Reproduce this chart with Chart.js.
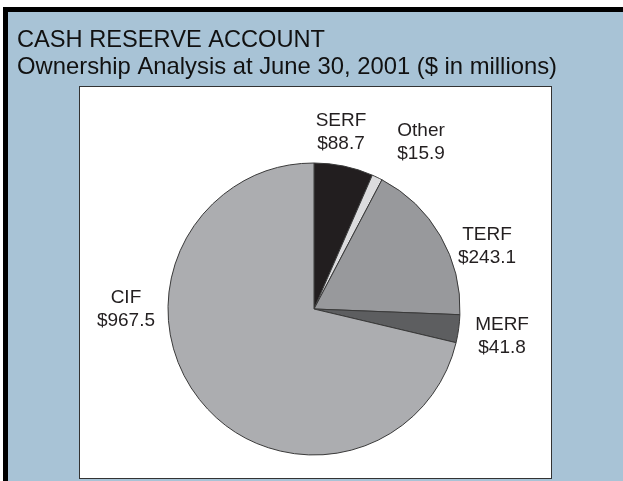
<!DOCTYPE html>
<html>
<head>
<meta charset="utf-8">
<script src="https://cdn.jsdelivr.net/npm/chart.js@4.4.1/dist/chart.umd.min.js"></script>
<style>
  html, body { margin: 0; padding: 0; background: #ffffff; }
  #wrap { width: 623px; height: 481px; }
</style>
</head>
<body>
<div id="wrap"><canvas id="chart" width="623" height="481"></canvas></div>
<script>
// chart data
const funds = ["SERF", "Other", "TERF", "MERF", "CIF"];
const amounts = [88.7, 15.9, 243.1, 41.8, 967.5];
const titleLines = ["CASH RESERVE ACCOUNT", "Ownership Analysis at June 30, 2001 ($ in millions)"];

// look
const sliceColors = ["#221e1f", "#dcdcde", "#98999c", "#5d5e60", "#acadb0"];
// label block centre, relative to pie centre, in units of the radius
const labelSpots = [[0.185, -1.226], [0.733, -1.151], [1.185, -0.445], [1.288, 0.178], [-1.288, -0.007]];

const frame = {
  id: "frame",
  beforeDraw(chart) {
    const ctx = chart.ctx;
    ctx.save();
    ctx.fillStyle = "#ffffff";
    ctx.fillRect(0, 0, 623, 481);
    ctx.fillStyle = "#000000";
    ctx.fillRect(3, 7, 620, 474);
    ctx.fillStyle = "#a8c3d6";
    ctx.fillRect(8, 12, 615, 469);
    // white panel behind the pie
    ctx.fillStyle = "#ffffff";
    ctx.fillRect(79, 86, 473, 393);
    ctx.strokeStyle = "#333333";
    ctx.lineWidth = 1;
    ctx.strokeRect(79.5, 86.5, 472, 392);

    // title, squeezed to the width seen in the picture
    ctx.fillStyle = "#111111";
    ctx.font = "24px 'Liberation Sans', Arial, sans-serif";
    ctx.textBaseline = "alphabetic";
    const spots = [[17, 47, 308], [17, 74, 540]];
    titleLines.forEach((t, i) => {
      const [x, y, w] = spots[i];
      const m = ctx.measureText(t).width;
      ctx.save();
      ctx.translate(x, y);
      ctx.scale(w / m, 1);
      ctx.fillText(t, 0, 0);
      ctx.restore();
    });
    ctx.restore();
  },
};

const sliceLabels = {
  id: "sliceLabels",
  afterDatasetsDraw(chart) {
    const ctx = chart.ctx;
    const arcs = chart.getDatasetMeta(0).data;
    ctx.save();
    ctx.fillStyle = "#231f20";
    ctx.font = "19px 'Liberation Sans', Arial, sans-serif";
    ctx.textAlign = "center";
    ctx.textBaseline = "alphabetic";
    arcs.forEach((arc, i) => {
      const r = arc.outerRadius;
      const cx = arc.x + labelSpots[i][0] * r;
      const cy = arc.y + labelSpots[i][1] * r;
      ctx.fillText(funds[i], cx, cy - 11.5 + 7);
      ctx.fillText("$" + amounts[i].toFixed(1), cx, cy + 11.5 + 7);
    });
    ctx.restore();
  },
};

new Chart(document.getElementById("chart"), {
  type: "pie",
  data: {
    labels: funds,
    datasets: [{
      data: amounts,
      backgroundColor: sliceColors,
      borderColor: "#3a3a3a",
      borderWidth: 1,
    }],
  },
  options: {
    responsive: false,
    devicePixelRatio: 1,
    animation: false,
    radius: 146,
    layout: { padding: { left: 168, right: 163, top: 163, bottom: 26 } },
    plugins: {
      legend: { display: false },
      tooltip: { enabled: false },
      title: { display: false },
    },
  },
  plugins: [frame, sliceLabels],
});
</script>
</body>
</html>
